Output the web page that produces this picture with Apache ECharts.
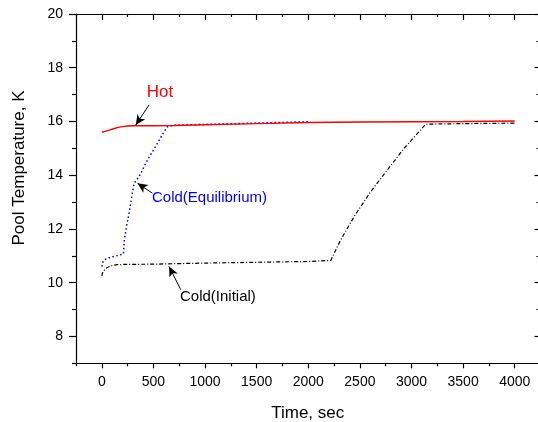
<!DOCTYPE html>
<html>
<head>
<meta charset="utf-8">
<script src="https://cdn.jsdelivr.net/npm/echarts@6/dist/echarts.min.js"></script>
<style>
  html, body { margin: 0; padding: 0; background: #fff; }
  #chart { width: 538px; height: 422px; }
</style>
</head>
<body>
<div id="chart"></div>
<script>
// ---- Data ----
var hotTime = [0, 40, 80, 120, 160, 200, 250, 330, 500, 700, 1000, 1500, 2000, 2500, 3000, 3500, 4000];
var hotTemp = [15.60, 15.64, 15.69, 15.74, 15.78, 15.81, 15.83, 15.84, 15.84, 15.85, 15.88, 15.92, 15.96, 15.98, 15.99, 16.00, 16.02];

var equilTime = [0, 15, 40, 87, 152, 210, 218, 240, 264, 290, 313, 361, 443, 539, 600, 636, 700, 1000, 1500, 2000];
var equilTemp = [10.60, 10.82, 10.88, 10.95, 11.01, 11.07, 11.60, 12.10, 12.59, 13.20, 13.70, 13.95, 14.57, 15.19, 15.60, 15.81, 15.86, 15.89, 15.94, 15.99];

var initTime = [0, 10, 39, 87, 150, 216, 500, 1000, 1500, 2000, 2218, 2315, 2444, 2605, 2767, 2928, 3090, 3138, 3500, 4000];
var initTemp = [10.25, 10.40, 10.54, 10.63, 10.67, 10.68, 10.69, 10.73, 10.76, 10.79, 10.83, 11.60, 12.46, 13.39, 14.20, 15.00, 15.69, 15.90, 15.92, 15.94];

var xMajorTicks = [0, 500, 1000, 1500, 2000, 2500, 3000, 3500, 4000];
var xMinorTicks = [-250, 250, 750, 1250, 1750, 2250, 2750, 3250, 3750];
var yMajorTicks = [8, 10, 12, 14, 16, 18, 20];
var yMinorTicks = [7, 9, 11, 13, 15, 17, 19];

// arrow annotations: [fromTime, fromTemp, toTime, toTemp]
var hotArrow = [458, 16.62, 329, 15.87];
var equilArrow = [491, 13.33, 346, 13.70];
var initArrow = [765, 9.74, 652, 10.60];

function pairs(t, v) { return t.map(function (x, i) { return [x, v[i]]; }); }

var X_MIN = -250, X_MAX = 4240, Y_MIN = 7, Y_MAX = 20;
var FONT = 'Liberation Sans, Arial, sans-serif';

function xAx(pos, ticks, len, inside, major) {
  return {
    type: 'value', position: pos, min: X_MIN, max: X_MAX,
    axisLine: { show: major, onZero: false, lineStyle: { color: '#000', width: 1.2 } },
    axisTick: { show: true, customValues: ticks, length: len, inside: inside, lineStyle: { color: '#000', width: 1.2 } },
    axisLabel: { show: false },
    splitLine: { show: false }
  };
}
function yAx(pos, ticks, len, inside, major) {
  return {
    type: 'value', position: pos, min: Y_MIN, max: Y_MAX,
    axisLine: { show: major, onZero: false, lineStyle: { color: '#000', width: 1.2 } },
    axisTick: { show: true, customValues: ticks, length: len, inside: inside, lineStyle: { color: '#000', width: 1.2 } },
    axisLabel: { show: false },
    splitLine: { show: false }
  };
}

var xBottom = xAx('bottom', xMajorTicks, 5, false, true);
xBottom.axisLabel = { show: true, customValues: xMajorTicks, fontSize: 14, margin: 12, color: '#000', fontFamily: FONT,
  formatter: function (v) { return String(v); } };
xBottom.name = 'Time, sec';
xBottom.nameLocation = 'middle';
xBottom.nameGap = 42;
xBottom.nameTextStyle = { fontSize: 17, color: '#000', fontFamily: FONT };

var yLeft = yAx('left', yMajorTicks, 7, false, true);
yLeft.axisLabel = { show: true, customValues: yMajorTicks, fontSize: 14, margin: 13, color: '#000', fontFamily: FONT,
  formatter: function (v) { return String(v); } };

function arrowLine(a) {
  return {
    silent: true, animation: false,
    symbol: ['none', 'arrow'], symbolSize: [7, 10],
    label: { show: false },
    lineStyle: { color: '#000', width: 1, type: 'solid' },
    emphasis: { disabled: true },
    data: [[{ coord: [a[0], a[1]] }, { coord: [a[2], a[3]] }]]
  };
}

var option = {
  animation: false,
  backgroundColor: '#fff',
  grid: { left: 76, top: 14, width: 463.5, height: 349.3, containLabel: false, outerBoundsMode: 'none' },
  xAxis: [
    xBottom,
    xAx('bottom', xMinorTicks, 3, false, false),
    xAx('top', xMajorTicks, 6, true, true),
    xAx('top', xMinorTicks, 3, true, false)
  ],
  yAxis: [
    yLeft,
    yAx('left', yMinorTicks, 4, false, false),
    yAx('right', yMajorTicks, 5, true, true),
    yAx('right', yMinorTicks, 3, true, false)
  ],
  series: [
    {
      name: 'Cold(Initial)', type: 'line', xAxisIndex: 0, yAxisIndex: 0,
      data: pairs(initTime, initTemp), symbol: 'none',
      lineStyle: { color: '#000', width: 1.2, type: [4, 2, 1, 2] },
      markLine: arrowLine(initArrow)
    },
    {
      name: 'Cold(Equilibrium)', type: 'line', xAxisIndex: 0, yAxisIndex: 0,
      data: pairs(equilTime, equilTemp), symbol: 'none',
      lineStyle: { color: '#0000ff', width: 1.5, type: [1.5, 2.5] },
      markLine: arrowLine(equilArrow)
    },
    {
      name: 'Hot', type: 'line', xAxisIndex: 0, yAxisIndex: 0,
      data: pairs(hotTime, hotTemp), symbol: 'none',
      lineStyle: { color: '#ff0000', width: 1.4, type: 'solid' },
      markLine: arrowLine(hotArrow)
    }
  ],
  graphic: [
    { type: 'text', x: 19, y: 168, rotation: Math.PI / 2,
      style: { text: 'Pool Temperature, K', fontSize: 17, fontFamily: FONT, fill: '#000', align: 'center', verticalAlign: 'middle' } },
    { type: 'text', x: 160, y: 92,
      style: { text: 'Hot', fontSize: 17, fontFamily: FONT, fill: '#ff0000', align: 'center', verticalAlign: 'middle' } },
    { type: 'text', x: 152, y: 198,
      style: { text: 'Cold(Equilibrium)', fontSize: 15, fontFamily: FONT, fill: '#0000ff', align: 'left', verticalAlign: 'middle' } },
    { type: 'text', x: 180, y: 297,
      style: { text: 'Cold(Initial)', fontSize: 15, fontFamily: FONT, fill: '#000', align: 'left', verticalAlign: 'middle' } }
  ]
};

var chart = echarts.init(document.getElementById('chart'), null, { renderer: 'canvas' });
chart.setOption(option);
</script>
</body>
</html>
